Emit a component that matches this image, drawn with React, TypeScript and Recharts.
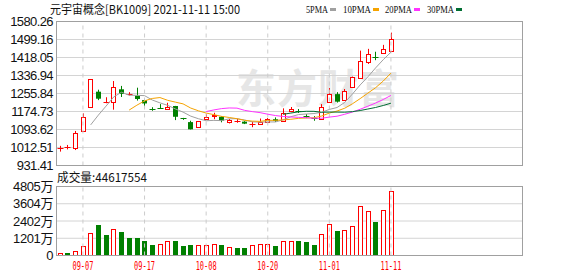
import React from "react";
import {
  ComposedChart,
  Bar,
  Line,
  XAxis,
  YAxis,
  CartesianGrid,
  ReferenceLine,
} from "recharts";

// trading days shown in the window
const dates = [
  "09-02", "09-03", "09-06", "09-07", "09-08", "09-09", "09-10", "09-13", "09-14", "09-15",
  "09-16", "09-17", "09-22", "09-23", "09-24", "09-27", "09-28", "09-29", "09-30", "10-08",
  "10-11", "10-12", "10-13", "10-14", "10-15", "10-18", "10-19", "10-20", "10-21", "10-22",
  "10-25", "10-26", "10-27", "10-28", "10-29", "11-01", "11-02", "11-03", "11-04", "11-05",
  "11-08", "11-09", "11-10", "11-11",
];
const opens = [
  1011, 1014, 1011.6, 1085.5, 1193.6, 1264, 1217, 1217.5, 1274.7, 1249,
  1246, 1226, 1187, 1190, 1187, 1199.5, 1145, 1127, 1106, 1143,
  1153, 1151, 1126, 1132, 1129, 1117, 1120, 1129, 1140, 1132,
  1178, 1179, 1155, 1145, 1141, 1216, 1253, 1227, 1284, 1326,
  1399, 1422, 1437, 1447,
];
const highs = [
  1020, 1024, 1087, 1166, 1320, 1273, 1239, 1312, 1290, 1262,
  1282, 1232, 1194, 1208, 1214, 1200, 1146, 1133, 1131, 1162,
  1169, 1153, 1141, 1141, 1131, 1129, 1143, 1145, 1148, 1189,
  1195, 1186, 1163, 1154, 1208, 1280, 1262, 1276, 1332, 1449,
  1457, 1444, 1475, 1530,
];
const lows = [
  994, 1004, 1001, 1085, 1193, 1226, 1212, 1183, 1240, 1247,
  1224, 1193, 1178, 1188, 1186, 1136, 1137, 1094, 1105, 1138,
  1140, 1126, 1121, 1124, 1118, 1104, 1115, 1126, 1128, 1130,
  1172, 1168, 1145, 1133, 1140, 1215, 1215, 1226, 1283, 1323,
  1389, 1406, 1436, 1446,
];
const closes = [
  1012, 1015, 1076.5, 1148.6, 1319.8, 1232.4, 1218, 1283.7, 1253.6, 1252,
  1231, 1211, 1185, 1189, 1196, 1151, 1139, 1094.4, 1130.5, 1150,
  1160, 1133, 1136, 1133, 1120, 1118, 1127, 1141, 1132, 1169,
  1187, 1176, 1153, 1143, 1196.5, 1252, 1219, 1268, 1331.5, 1401,
  1434, 1420, 1455, 1500,
];
// volume in 万 (10k shares)
const volumes = [
  160, 160, 280, 627, 1600, 2110, 1414, 1831, 1622, 1226,
  1226, 996, 717, 787, 996, 996, 648, 717, 717, 717,
  787, 717, 578, 508, 508, 717, 787, 787, 648, 996,
  996, 1017, 927, 717, 1483, 2180, 1692, 1762, 2040, 3433,
  3085, 2318, 3155, 4461.7554,
];
// colour of each volume bar (true = red)
const volUp = [
  true, false, true, true, true, false, false, true, false, false,
  false, false, false, true, true, false, false, false, true, true,
  true, false, true, false, false, true, true, true, false, true,
  true, false, false, false, true, true, false, true, true, true,
  true, false, true, true,
];

const priceTicks = [931.41, 1012.51, 1093.62, 1174.73, 1255.84, 1336.94, 1418.05, 1499.16, 1580.26];
const volTicks = [0, 1201, 2402, 3604, 4805];
const dateTicks = ["09-07", "09-17", "10-08", "10-20", "11-01", "11-11"];

const SLOTS = 60;
const RED = "#ff0000";
const GREEN = "#008000";
const MA_COLORS = { ma5: "#a0a0a0", ma10: "#f5a300", ma20: "#ff33ff", ma30: "#006e32" };

// n-day moving average of the visible closes
const avg = (n: number, i: number) => {
  if (i < n - 1) return null;
  let s = 0;
  for (let j = i - n + 1; j <= i; j++) s += closes[j];
  return s / n;
};

const rows = Array.from({ length: SLOTS }, (_, i) =>
  i < dates.length
    ? {
        d: dates[i],
        o: opens[i],
        h: highs[i],
        l: lows[i],
        c: closes[i],
        v: volumes[i],
        up: volUp[i],
        ma5: avg(5, i),
        ma10: avg(10, i),
        ma20: avg(20, i),
        ma30: avg(30, i),
      }
    : { d: `pad${i}` }
);

const Candle = (props: any) => {
  const { x, y, width, height, payload } = props;
  if (!payload || payload.h == null) return null;
  const { o, h, l, c } = payload;
  const top = Math.min(y, y + height);
  const k = Math.abs(height) / (h - l || 1);
  const py = (v: number) => top + (h - v) * k;
  const cx = Math.round(x + width / 2) + 0.5;
  const up = c >= o;
  const color = up ? RED : GREEN;
  const yT = py(Math.max(o, c));
  const yB = py(Math.min(o, c));
  if (yB - yT < 1.5) {
    const yy = Math.round(yT) + 0.5;
    return (
      <g>
        <line x1={cx} x2={cx} y1={py(h)} y2={py(l)} stroke={color} />
        <line x1={cx - 3} x2={cx + 3} y1={yy} y2={yy} stroke={color} />
      </g>
    );
  }
  if (up) {
    const t = Math.round(yT) + 0.5;
    const b = Math.round(yB) + 0.5;
    return (
      <g>
        <line x1={cx} x2={cx} y1={py(h)} y2={t} stroke={RED} />
        <line x1={cx} x2={cx} y1={b} y2={py(l)} stroke={RED} />
        <rect x={cx - 2} y={t} width={4} height={b - t} fill="#fff" stroke={RED} />
      </g>
    );
  }
  return (
    <g>
      <line x1={cx} x2={cx} y1={py(h)} y2={py(l)} stroke={GREEN} />
      <rect x={cx - 2.5} y={yT} width={5} height={yB - yT} fill={GREEN} />
    </g>
  );
};

const VolBar = (props: any) => {
  const { x, y, width, height, payload } = props;
  if (!payload || payload.v == null) return null;
  const cx = Math.round(x + width / 2) + 0.5;
  const t = Math.round(y) + 0.5;
  const b = Math.round(y + height) - 0.5;
  if (payload.up) {
    return <rect x={cx - 2} y={t} width={4} height={Math.max(b - t, 1)} fill="#fff" stroke={RED} />;
  }
  return <rect x={cx - 2.5} y={t - 0.5} width={5} height={b - t + 1} fill={GREEN} />;
};

const PriceTick = ({ y, payload }: any) => (
  <text
    x={53}
    y={y}
    dy={4.5}
    textAnchor="end"
    fontSize={13}
    fontFamily="'Liberation Sans', Arial"
    letterSpacing={-0.6}
    fill="#111"
  >
    {Number(payload.value).toFixed(2)}
  </text>
);

const VolTick = ({ y, payload }: any) => (
  <text
    x={53}
    y={y}
    dy={4.5}
    textAnchor="end"
    fontSize={13}
    fontFamily="'Liberation Sans', 'Noto Sans CJK SC'"
    letterSpacing={-0.4}
    fill="#111"
  >
    {payload.value === 0 ? "0" : `${payload.value}万`}
  </text>
);

const DateTick = ({ x, y, payload }: any) => (
  <text
    x={x}
    y={y}
    dy={8.5}
    textAnchor="middle"
    fontSize={12}
    fontFamily="'DejaVu Sans Mono', monospace"
    textLength={21}
    lengthAdjust="spacingAndGlyphs"
    fill={RED}
  >
    {payload.value}
  </text>
);

const boxStyle = (top: number, height: number): React.CSSProperties => ({
  position: "absolute",
  left: 56,
  top,
  width: 467,
  height,
  border: "1px solid #a0a0a0",
  boxSizing: "border-box",
  pointerEvents: "none",
});

const legend = [
  { label: "5PMA", x: 306, w: 22, color: MA_COLORS.ma5 },
  { label: "10PMA", x: 343, w: 28, color: MA_COLORS.ma10 },
  { label: "20PMA", x: 385, w: 27, color: MA_COLORS.ma20 },
  { label: "30PMA", x: 427, w: 27, color: MA_COLORS.ma30 },
];

export default function App() {
  return (
    <div
      style={{
        position: "absolute",
        left: 0,
        top: 0,
        width: 578,
        height: 276,
        background: "#fff",
        overflow: "hidden",
      }}
    >
      <div
        style={{
          position: "absolute",
          left: 236,
          top: 62,
          fontSize: 40,
          fontWeight: 700,
          letterSpacing: 1,
          color: "#e6e6e6",
          fontFamily: "'Noto Sans CJK SC'",
          whiteSpace: "nowrap",
          lineHeight: "48px",
        }}
      >
        东方财富
      </div>

      <div style={{ position: "absolute", left: 0, top: 0 }}>
        <ComposedChart
          width={578}
          height={176}
          data={rows}
          margin={{ top: 21.5, right: 56, bottom: 10.5, left: 0 }}
        >
          <CartesianGrid vertical={false} stroke="#d4d4d4" />
          <XAxis dataKey="d" hide padding={{ left: 0, right: 4 }} />
          <YAxis
            width={56}
            domain={[931.41, 1580.26]}
            ticks={priceTicks}
            interval={0}
            axisLine={false}
            tickLine={false}
            tick={<PriceTick />}
            allowDataOverflow
          />
          {dateTicks.map((d) => (
            <ReferenceLine key={d} x={d} stroke="#cccccc" strokeDasharray="4 4" />
          ))}
          <Bar
            dataKey={(r: any) => (r.h != null ? [r.l, r.h] : null)}
            barSize={5}
            shape={<Candle />}
            isAnimationActive={false}
          />
          {(["ma5", "ma10", "ma20", "ma30"] as const).map((k) => (
            <Line
              key={k}
              type="linear"
              dataKey={k}
              stroke={MA_COLORS[k]}
              strokeWidth={1}
              dot={false}
              activeDot={false}
              isAnimationActive={false}
            />
          ))}
        </ComposedChart>
      </div>

      <div style={{ position: "absolute", left: 0, top: 176 }}>
        <ComposedChart
          width={578}
          height={100}
          data={rows}
          margin={{ top: 10.5, right: 56, bottom: 0, left: 0 }}
        >
          <CartesianGrid vertical={false} stroke="#d4d4d4" />
          <XAxis
            dataKey="d"
            height={20.5}
            padding={{ left: 0, right: 4 }}
            ticks={dateTicks}
            interval={0}
            axisLine={false}
            tickLine={false}
            tickSize={6}
            tickMargin={0}
            tick={<DateTick />}
          />
          <YAxis
            width={56}
            domain={[0, 4805]}
            ticks={volTicks}
            interval={0}
            axisLine={false}
            tickLine={false}
            tick={<VolTick />}
            allowDataOverflow
          />
          {dateTicks.map((d) => (
            <ReferenceLine key={d} x={d} stroke="#cccccc" strokeDasharray="4 4" />
          ))}
          <Bar dataKey="v" barSize={5} shape={<VolBar />} isAnimationActive={false} />
        </ComposedChart>
      </div>

      <div style={boxStyle(21, 145)} />
      <div style={boxStyle(186, 70)} />

      <svg
        width={578}
        height={276}
        style={{ position: "absolute", left: 0, top: 0, pointerEvents: "none" }}
      >
        <text
          x={50}
          y={14}
          fontSize={12}
          fontFamily="'Noto Sans CJK SC'"
          textLength={190}
          lengthAdjust="spacingAndGlyphs"
          fill="#111"
        >
          元宇宙概念[BK1009] 2021-11-11 15:00
        </text>
        {legend.map((it) => (
          <g key={it.label}>
            <text
              x={it.x}
              y={13}
              fontSize={11}
              fontFamily="'Liberation Serif'"
              textLength={it.w}
              lengthAdjust="spacingAndGlyphs"
              fill="#111"
            >
              {it.label}
            </text>
            <rect x={it.x + it.w + 2} y={8} width={6} height={3} fill={it.color} />
          </g>
        ))}
        <text
          x={57}
          y={182}
          fontSize={12}
          fontFamily="'Noto Sans CJK SC'"
          textLength={90}
          lengthAdjust="spacingAndGlyphs"
          fill="#111"
        >
          成交量:44617554
        </text>
      </svg>
    </div>
  );
}
